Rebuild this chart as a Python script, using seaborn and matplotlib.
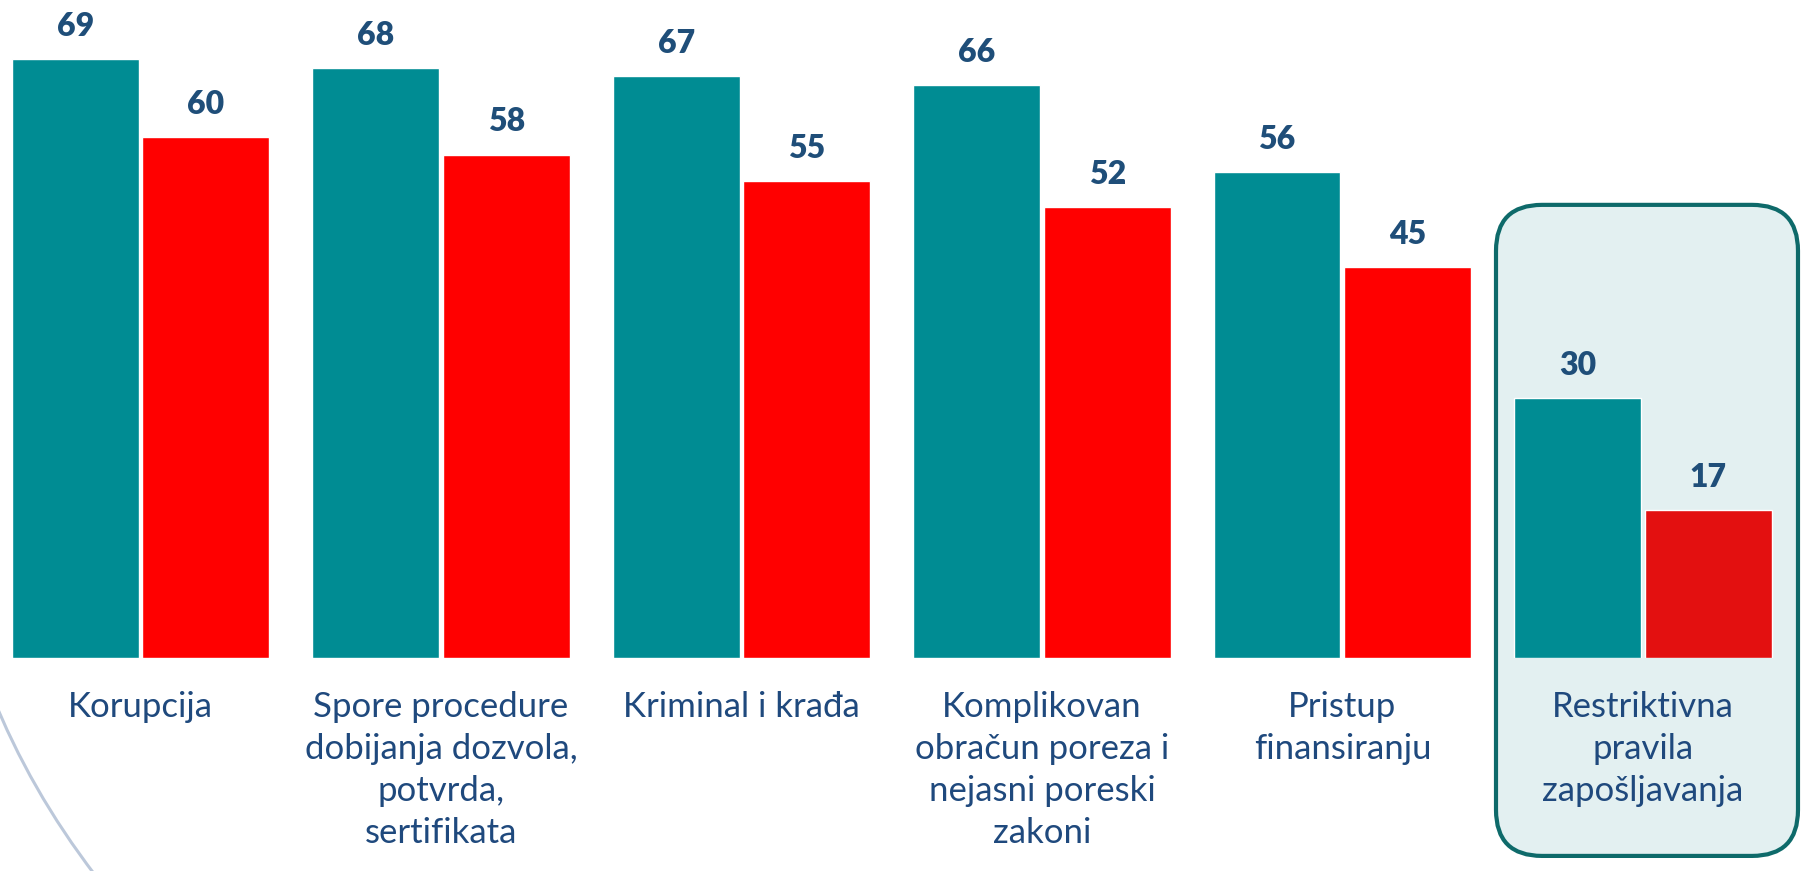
import pandas as pd
import matplotlib.pyplot as plt
import seaborn as sns
from matplotlib.patches import FancyBboxPatch, PathPatch
from matplotlib.path import Path

# Data
categories = ["Korupcija",
              "Spore procedure\ndobijanja dozvola,\npotvrda,\nsertifikata",
              "Kriminal i krađa",
              "Komplikovan\nobračun poreza i\nnejasni poreski\nzakoni",
              "Pristup\nfinansiranju",
              "Restriktivna\npravila\nzapošljavanja"]
series = ["Serija 1", "Serija 2"]
values_teal = [69, 68, 67, 66, 56, 30]
values_red = [60, 58, 55, 52, 45, 17]

df = pd.DataFrame({
    "kategorija": categories * 2,
    "serija": [series[0]] * len(categories) + [series[1]] * len(categories),
    "vrednost": values_teal + values_red,
})

sns.set_style("white")
plt.rcParams["font.family"] = ["Lato", "DejaVu Sans"]

TEAL = "#008C93"
RED = "#FF0000"
TEXT = "#1F497D"

fig = plt.figure(figsize=(18.04, 8.71), dpi=100)
# axes bottom sits on the bar baseline
ax = fig.add_axes([0, 213 / 871, 1, 658 / 871])

sns.barplot(data=df, x="kategorija", y="vrednost", hue="serija",
            order=categories, hue_order=series,
            palette=[TEAL, RED], width=0.87, gap=0.03,
            saturation=1, legend=False, ax=ax, zorder=2)

ax.set_xlim(-0.4676, 5.536)
ax.set_ylim(0, 75.8)

# darker red for the highlighted group
ax.containers[1][5].set_facecolor("#E31010")

for cont in ax.containers:
    ax.bar_label(cont, fmt="%d", padding=13, fontsize=23, fontweight="heavy", color="#1F4E79")

# highlight box behind last group
box = FancyBboxPatch((4.511, -22.8), 1.005, 75.0,
                     boxstyle="round,pad=0,rounding_size=0.153",
                     mutation_aspect=34.6, transform=ax.transData,
                     facecolor="#E3F0F1", edgecolor="#0E6A6A", linewidth=3,
                     clip_on=False, zorder=0.5)
ax.add_patch(box)

ax.set_xlabel("")
ax.set_ylabel("")
ax.set_yticks([])
ax.tick_params(axis="x", length=0, pad=24, labelsize=25, labelcolor=TEXT)
for lab in ax.get_xticklabels():
    lab.set_linespacing(1.38)
sns.despine(ax=ax, left=True, bottom=True)
ax.set_facecolor("none")

# decorative arc, bottom-left corner
W, H = 1804, 871
pts = [(-8 / W, 1 - 695 / H), (30 / W, 1 - 790 / H), (95 / W, 1 - 875 / H)]
arc = PathPatch(Path(pts, [Path.MOVETO, Path.CURVE3, Path.CURVE3]),
                transform=fig.transFigure, fill=False, edgecolor="#BCC8DA", linewidth=2.2)
fig.add_artist(arc)

fig.savefig("out.png", dpi=100)
